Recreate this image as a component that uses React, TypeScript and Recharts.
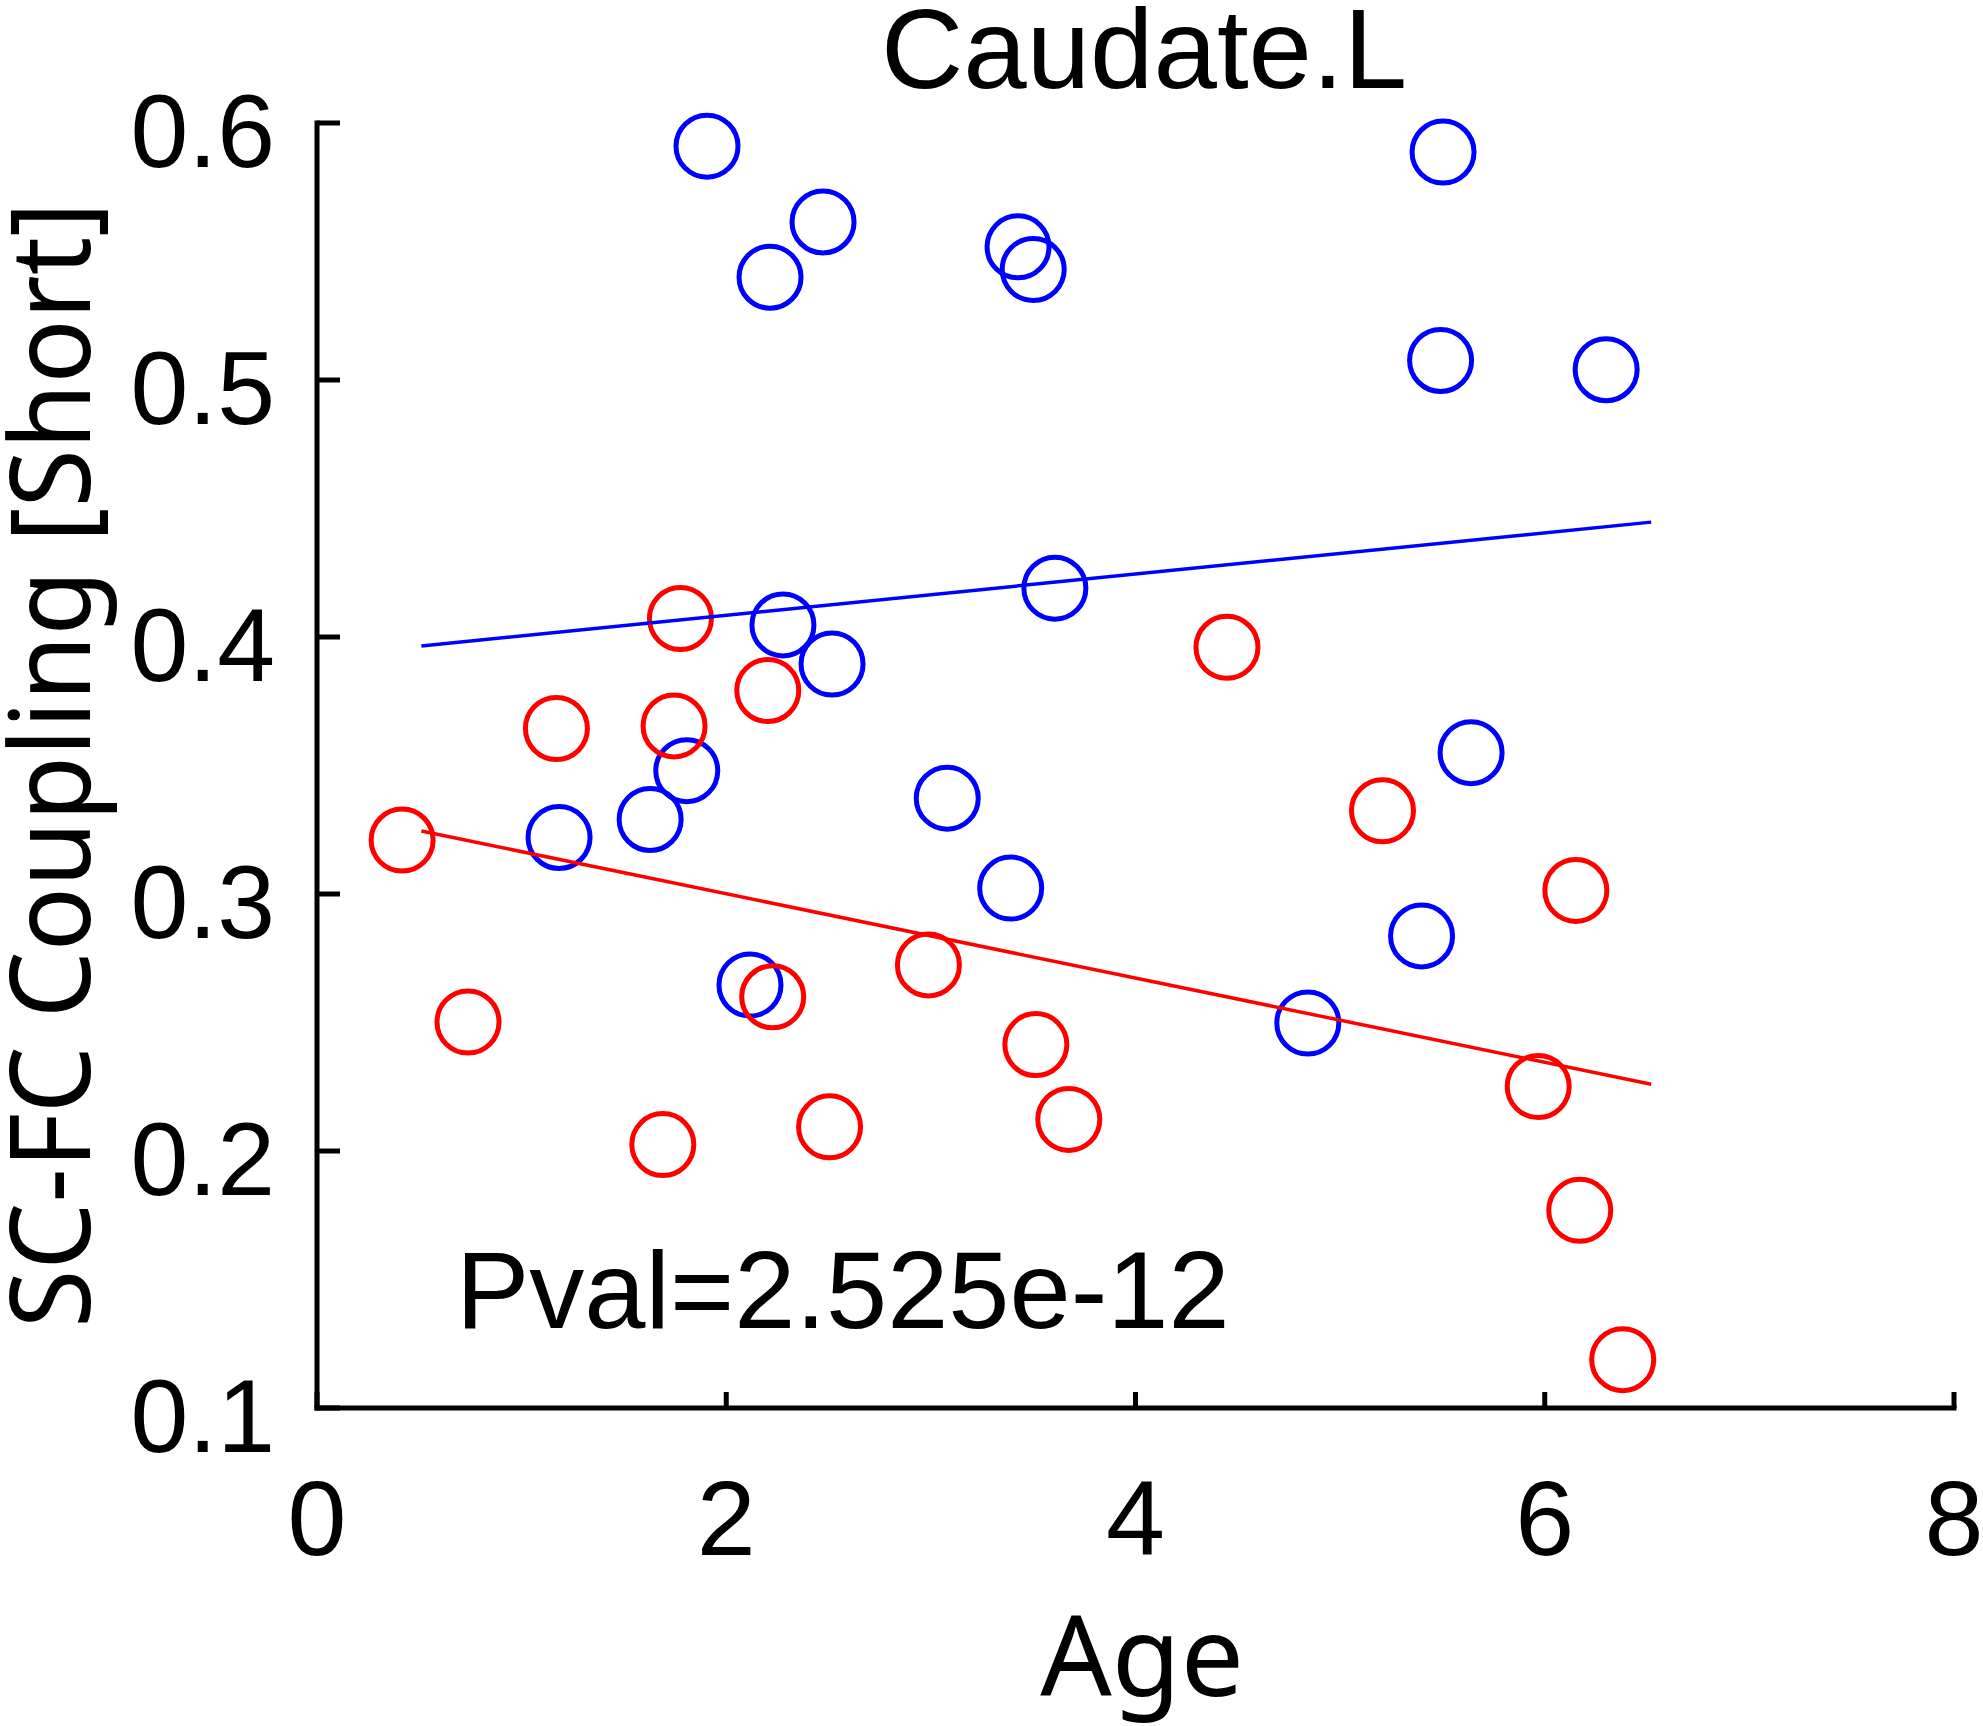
import { ScatterChart, Scatter, XAxis, YAxis } from "recharts";

// group values
const blueAge = [1.906, 2.473, 2.214, 3.426, 3.5, 5.503, 5.491, 6.3, 3.606, 2.277, 2.517, 5.64, 1.807, 1.628, 1.183, 3.08, 3.39, 5.398, 2.116, 4.842];
const blueCoupling = [0.591, 0.5615, 0.54, 0.5518, 0.543, 0.5887, 0.5076, 0.504, 0.419, 0.4047, 0.3895, 0.355, 0.348, 0.329, 0.322, 0.3373, 0.3023, 0.2837, 0.2646, 0.2498];

const redAge = [1.776, 4.447, 2.203, 1.17, 1.745, 0.416, 5.207, 6.152, 0.738, 2.227, 2.988, 3.513, 3.674, 2.505, 1.69, 5.968, 6.171, 6.381];
const redCoupling = [0.4072, 0.396, 0.3792, 0.3644, 0.3654, 0.321, 0.3324, 0.3014, 0.2502, 0.26, 0.2724, 0.2414, 0.2123, 0.2094, 0.2025, 0.2251, 0.1769, 0.1188];

// fitted lines (end points)
const fitAge = [0.51, 6.52];
const blueFitCoupling = [0.3965, 0.4447];
const redFitCoupling = [0.3245, 0.226];

const ageTicks = [0, 2, 4, 6, 8];
const couplingTicks = [0.1, 0.2, 0.3, 0.4, 0.5, 0.6];

const title = "Caudate.L";
const pvalText = "Pval=2.525e-12";
const xLabel = "Age";
const yLabel = "SC-FC Coupling [Short]";

const BLUE = "#0000ff";
const RED = "#ff0000";
const ARIAL = "'Liberation Sans', Arial, sans-serif";
const LABEL_FONT = "'Noto Sans', sans-serif";

const toPoints = (xs: number[], ys: number[]) => xs.map((x, i) => ({ age: x, coupling: ys[i] }));

const bluePoints = toPoints(blueAge, blueCoupling);
const redPoints = toPoints(redAge, redCoupling);
const blueFit = toPoints(fitAge, blueFitCoupling);
const redFit = toPoints(fitAge, redFitCoupling);

const ringShape = (color: string) => (props: any) => (
  <circle cx={props.cx} cy={props.cy} r={31} fill="none" stroke={color} strokeWidth={5} />
);

const YTick = ({ x, y, payload }: any) => (
  <g>
    <line x1={x} x2={x + 23} y1={y} y2={y} stroke="#000" strokeWidth={5} />
    <text x={x - 42} y={y + 44} textAnchor="end" fontSize={104} fontFamily={ARIAL} fill="#000">
      {Number(payload.value).toFixed(1)}
    </text>
  </g>
);

const XTick = ({ x, y, payload }: any) => (
  <g>
    <line x1={x} x2={x} y1={y} y2={y - 16} stroke="#000" strokeWidth={5} />
    <text x={x} y={y + 147} textAnchor="middle" fontSize={106} fontFamily={ARIAL} fill="#000">
      {payload.value}
    </text>
  </g>
);

export default function App() {
  return (
    <div style={{ position: "absolute", left: 0, top: 0, width: 1983, height: 1726, background: "#fff" }}>
      <ScatterChart width={1983} height={1726} margin={{ top: 123, right: 29, bottom: 218, left: 217 }}>
        <XAxis
          type="number"
          dataKey="age"
          domain={[0, 8]}
          ticks={ageTicks}
          height={100}
          tickSize={0}
          tickMargin={0}
          tickLine={false}
          axisLine={{ stroke: "#000", strokeWidth: 5, strokeLinecap: "square" }}
          tick={<XTick />}
          interval={0}
        />
        <YAxis
          type="number"
          dataKey="coupling"
          domain={[0.1, 0.6]}
          ticks={couplingTicks}
          width={100}
          tickSize={0}
          tickMargin={0}
          tickLine={false}
          axisLine={{ stroke: "#000", strokeWidth: 5, strokeLinecap: "square" }}
          tick={<YTick />}
          interval={0}
        />
        <Scatter data={bluePoints} shape={ringShape(BLUE)} isAnimationActive={false} />
        <Scatter data={redPoints} shape={ringShape(RED)} isAnimationActive={false} />
        <Scatter
          data={blueFit}
          line={{ stroke: BLUE, strokeWidth: 3.5 }}
          shape={() => <g />}
          isAnimationActive={false}
        />
        <Scatter
          data={redFit}
          line={{ stroke: RED, strokeWidth: 3.5 }}
          shape={() => <g />}
          isAnimationActive={false}
        />
        <text x={1144} y={88} textAnchor="middle" fontSize={114} fontFamily={ARIAL} fill="#000">
          {title}
        </text>
        <text x={456} y={1328} fontSize={110} fontFamily={ARIAL} fill="#000">
          {pvalText}
        </text>
        <text x={1142} y={1696} textAnchor="middle" fontSize={112} fontFamily={LABEL_FONT} fill="#000">
          {xLabel}
        </text>
        <text
          transform="translate(90,765) rotate(-90)"
          textAnchor="middle"
          fontSize={112}
          fontFamily={LABEL_FONT}
          fill="#000"
          textLength={1126}
          lengthAdjust="spacingAndGlyphs"
        >
          {yLabel}
        </text>
      </ScatterChart>
    </div>
  );
}
